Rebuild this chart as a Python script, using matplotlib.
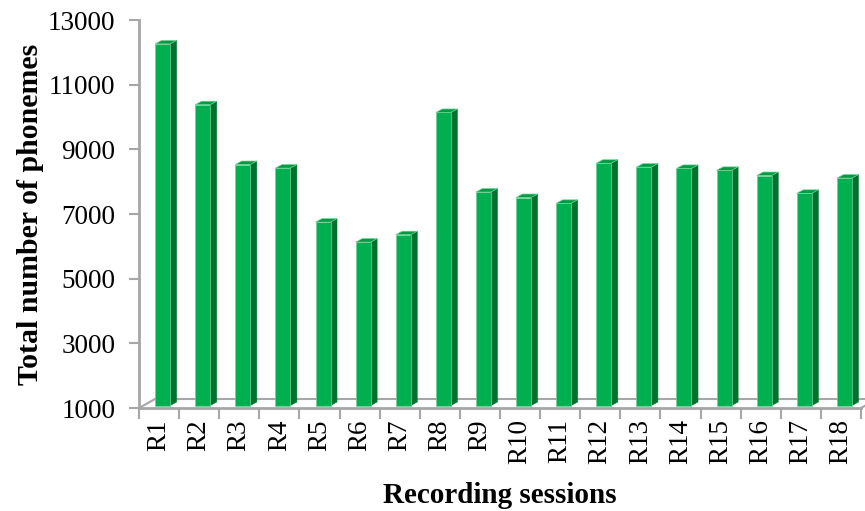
import matplotlib
matplotlib.use("Agg")
import matplotlib.pyplot as plt
from matplotlib.patches import Polygon
import numpy as np

sessions = ["R1", "R2", "R3", "R4", "R5", "R6", "R7", "R8", "R9",
            "R10", "R11", "R12", "R13", "R14", "R15", "R16", "R17", "R18"]
phonemes = [12260, 10380, 8530, 8420, 6750, 6130, 6360, 10140, 7680,
            7510, 7330, 8570, 8450, 8410, 8350, 8190, 7640, 8110]
y_ticks = [1000, 3000, 5000, 7000, 9000, 11000, 13000]

FRONT = "#00B050"
SIDE = "#00722E"
TOP = "#009A43"
EDGE = "#6FD396"
GRID = "#A6A6A6"

plt.rcParams["font.family"] = ["Liberation Serif", "DejaVu Serif"]

W, H, DPI = 865, 511, 100
fig = plt.figure(figsize=(W / DPI, H / DPI), dpi=DPI)

# plot area in pixels: front-left corner at (139, 408), top at y=20, right at 861
left_px, right_px, bottom_px, top_px = 139, 861, 408, 20
ax = fig.add_axes([left_px / W, 1 - bottom_px / H,
                   (right_px - left_px) / W, (bottom_px - top_px) / H])
n = len(sessions)
ax.set_xlim(-0.5, n - 0.5)
ax.set_ylim(1000, 13000)

# pixel -> data conversion factors
px_x = (right_px - left_px) / n
px_y = (bottom_px - top_px) / 12000.0

def dx(p):
    return p / px_x

def dy(p):
    return p / px_y

# floor (depth 16 px right, 9 px up)
floor_d = (dx(16), dy(9))
ax.plot([-0.5 + floor_d[0], n - 0.5 + floor_d[0]], [1000 + floor_d[1]] * 2,
        color=GRID, lw=1.5, clip_on=False, zorder=1)
ax.plot([-0.5, -0.5 + floor_d[0]], [1000, 1000 + floor_d[1]],
        color=GRID, lw=1.5, clip_on=False, zorder=1)
ax.plot([n - 0.5, n - 0.5 + floor_d[0] * 0.4], [1000, 1000 + floor_d[1] * 0.4],
        color=GRID, lw=1.5, clip_on=False, zorder=1)

# 3D-looking columns
bw = dx(15)
shift_x, shift_y = dx(3.5), dy(2.5)
depth_x, depth_y = dx(6.5), dy(3.5)
for i, v in enumerate(phonemes):
    x0 = i - bw / 2 + shift_x
    x1 = x0 + bw
    y0 = 1000 + shift_y
    y1 = v
    side = Polygon([(x1, y0), (x1 + depth_x, y0 + depth_y),
                    (x1 + depth_x, y1 + depth_y), (x1, y1)],
                   closed=True, fc=SIDE, ec=SIDE, lw=0.4, zorder=3, clip_on=False)
    top = Polygon([(x0, y1), (x0 + depth_x, y1 + depth_y),
                   (x1 + depth_x, y1 + depth_y), (x1, y1)],
                  closed=True, fc=TOP, ec=EDGE, lw=0.5, zorder=3, clip_on=False)
    front = Polygon([(x0, y0), (x1, y0), (x1, y1), (x0, y1)],
                    closed=True, fc=FRONT, ec=EDGE, lw=0.5, zorder=4, clip_on=False)
    for p in (side, top, front):
        ax.add_patch(p)

# axes styling
for s in ("top", "right"):
    ax.spines[s].set_visible(False)
for s in ("left", "bottom"):
    ax.spines[s].set_color(GRID)
    ax.spines[s].set_linewidth(2)
    ax.spines[s].set_zorder(2)

ax.set_yticks(y_ticks)
ax.set_yticklabels([str(t) for t in y_ticks], fontsize=19.5)
ax.tick_params(axis="y", length=7, width=1.5, color=GRID, pad=10)

ax.set_xticks(np.arange(n))
ax.set_xticklabels(sessions, rotation=90, fontsize=19.5, va="top")
ax.tick_params(axis="x", which="major", length=0, pad=8)
ax.set_xticks(np.arange(n + 1) - 0.5, minor=True)
ax.tick_params(axis="x", which="minor", length=8, width=1.5, color=GRID)

ax.set_ylabel("Total number of phonemes", fontsize=21.5, fontweight="bold", labelpad=3)
ax.set_xlabel("Recording sessions", fontsize=21, fontweight="bold", labelpad=13)

fig.savefig("out.png", dpi=DPI)
